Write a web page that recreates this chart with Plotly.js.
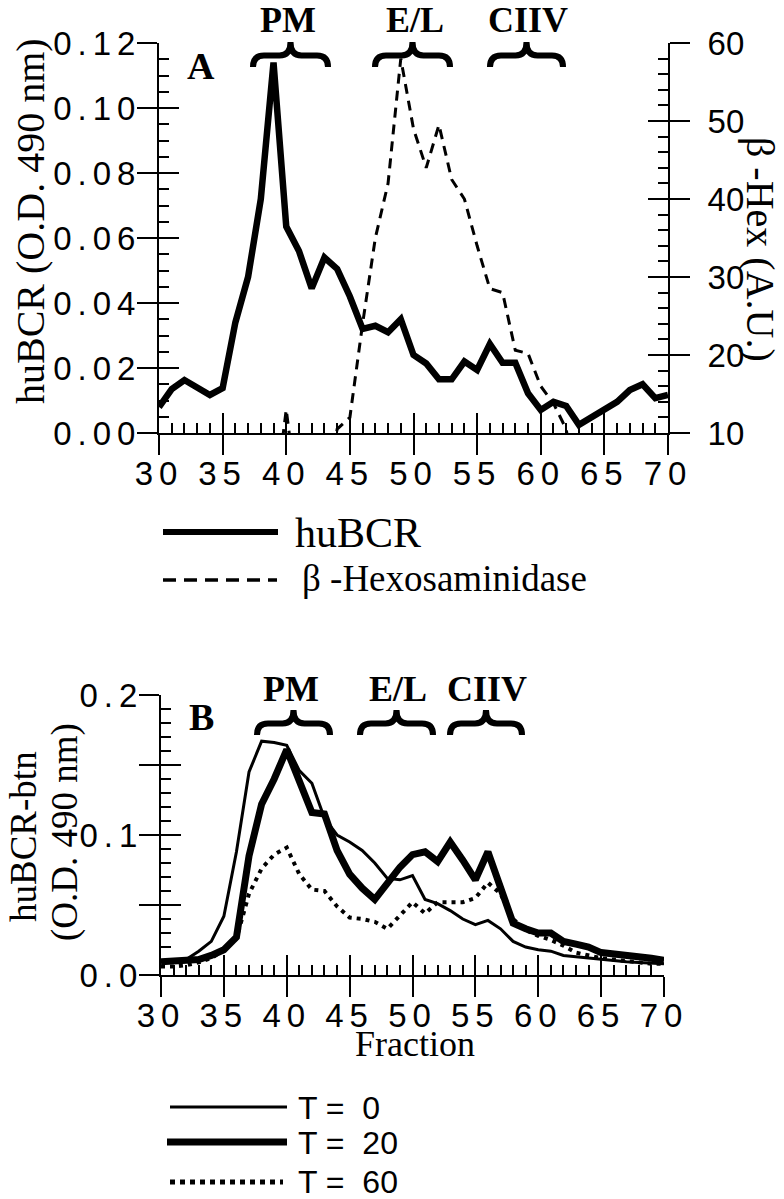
<!DOCTYPE html>
<html>
<head>
<meta charset="utf-8">
<script src="https://cdn.plot.ly/plotly-3.0.1.min.js"></script>
<style>
  body { margin: 0; background: #fff; }
  .xaxislayer-above text, .yaxislayer-above text { letter-spacing: 6px; }
</style>
</head>
<body>
<div id="chart"></div>
<script>
// Fractions of the gradient
const fractions = [30, 31, 32, 33, 34, 35, 36, 37, 38, 39, 40, 41, 42, 43, 44, 45, 46, 47, 48, 49, 50,
                   51, 52, 53, 54, 55, 56, 57, 58, 59, 60, 61, 62, 63, 64, 65, 66, 67, 68, 69, 70];

// Panel A: huBCR (O.D. 490 nm), left axis
const huBCR = [0.008, 0.0135, 0.0163, 0.014, 0.0117, 0.0138, 0.034, 0.048, 0.072, 0.114, 0.0635,
               0.056, 0.0445, 0.054, 0.0505, 0.042, 0.032, 0.033, 0.031, 0.035, 0.024,
               0.0214, 0.0165, 0.0165, 0.022, 0.0194, 0.0274, 0.0216, 0.0216, 0.0122, 0.0071,
               0.0096, 0.0083, 0.0025, 0.0048, 0.0071, 0.0096, 0.0132, 0.015, 0.0107, 0.0117];

// Panel A: beta-Hexosaminidase (A.U.), right axis (values under 10 fall below the axis)
const betaHex = [0, 0, 0, 0, 0, 0, 0, 0, 0, 0, 13,
                 0, 0, 0, 10.5, 12, 24, 35, 42, 58, 49,
                 44, 49.5, 42.5, 40, 34, 28.5, 28, 20.6, 20.2, 16,
                 13.8, 10.5, 0, 0, 0, 0, 0, 0, 0, 0];

// Panel B: huBCR-btn (O.D. 490 nm) at three chase times
const t0 = [0.0095, 0.0095, 0.011, 0.017, 0.024, 0.042, 0.088, 0.145, 0.167, 0.166, 0.164,
            0.146, 0.137, 0.112, 0.1, 0.095, 0.089, 0.08, 0.069, 0.068, 0.071,
            0.054, 0.051, 0.046, 0.04, 0.036, 0.039, 0.033, 0.024, 0.02, 0.018,
            0.017, 0.014, 0.013, 0.012, 0.011, 0.01, 0.0095, 0.009, 0.0085, 0.008];
const t20 = [0.0095, 0.01, 0.01, 0.011, 0.014, 0.018, 0.027, 0.085, 0.122, 0.14, 0.161,
             0.139, 0.116, 0.115, 0.089, 0.072, 0.062, 0.054, 0.066, 0.077, 0.086,
             0.088, 0.081, 0.095, 0.082, 0.068, 0.088, 0.063, 0.037, 0.033, 0.03,
             0.03, 0.024, 0.022, 0.02, 0.016, 0.015, 0.014, 0.014, 0.012, 0.0105];
const t60 = [0.006, 0.006, 0.007, 0.009, 0.012, 0.018, 0.026, 0.058, 0.076, 0.086, 0.091,
             0.072, 0.061, 0.06, 0.049, 0.041, 0.04, 0.038, 0.033, 0.042, 0.052,
             0.044, 0.052, 0.052, 0.052, 0.055, 0.066, 0.058, 0.04, 0.032, 0.028,
             0.025, 0.021, 0.016, 0.014, 0.012, 0.011, 0.01, 0.009, 0.008, 0.008];

// Tick labels for panel B left axis
const bTickVals = [0, 0.05, 0.1, 0.15, 0.2];
const bTickText = ['0.0', '', '0.1', '', '0.2'];

// Organelle markers
const regionLabels = ['PM', 'E/L', 'CIIV'];

const W = 784, H = 1199;
const SERIF = 'Liberation Serif, Times New Roman, serif';
const SANS = 'Liberation Sans, Arial, Helvetica, sans-serif';
const px = (p) => p / W;
const py = (p) => 1 - p / H;

const tickFont = { family: SANS, size: 33, color: 'black' };

// curly brace drawn in pixel space, converted to paper
function brace(x0, x1, yTop, yBot) {
  const xm = (x0 + x1) / 2, yb = (yTop + yBot) / 2 + 1, r = 11;
  const P = (x, y) => px(x).toFixed(5) + ',' + py(y).toFixed(5);
  return 'M' + P(x0, yBot) + ' Q' + P(x0, yb) + ' ' + P(x0 + r, yb) +
         ' L' + P(xm - r, yb) + ' Q' + P(xm, yb) + ' ' + P(xm, yTop) +
         ' Q' + P(xm, yb) + ' ' + P(xm + r, yb) + ' L' + P(x1 - r, yb) +
         ' Q' + P(x1, yb) + ' ' + P(x1, yBot);
}

function mainAxis(extra) {
  return Object.assign({
    ticks: 'outside', ticklen: 20, tickwidth: 2, tickcolor: 'black',
    showline: true, linewidth: 2, linecolor: 'black',
    showgrid: false, zeroline: false, tickfont: tickFont, fixedrange: true
  }, extra);
}
function innerAxis(extra, minorDtick) {
  return Object.assign({
    ticks: 'inside', ticklen: 20, tickwidth: 2, tickcolor: 'black',
    showticklabels: false, showline: false, showgrid: false, zeroline: false,
    minor: { ticks: 'inside', ticklen: 10, tickwidth: 2, tickcolor: 'black', dtick: minorDtick, showgrid: false }
  }, extra);
}

const data = [
  { x: fractions, y: huBCR, type: 'scatter', mode: 'lines', name: 'huBCR',
    xaxis: 'x', yaxis: 'y', line: { color: 'black', width: 6.5 } },
  { x: fractions, y: betaHex, type: 'scatter', mode: 'lines', name: 'β-Hexosaminidase',
    xaxis: 'x', yaxis: 'y3', line: { color: 'black', width: 3, dash: '10px,7px' } },
  { x: fractions, y: t60, type: 'scatter', mode: 'lines', name: 'T = 60',
    xaxis: 'x3', yaxis: 'y5', line: { color: 'black', width: 4, dash: '4px,5px' } },
  { x: fractions, y: t0, type: 'scatter', mode: 'lines', name: 'T = 0',
    xaxis: 'x3', yaxis: 'y5', line: { color: 'black', width: 3 } },
  { x: fractions, y: t20, type: 'scatter', mode: 'lines', name: 'T = 20',
    xaxis: 'x3', yaxis: 'y5', line: { color: 'black', width: 7 } },
  // empty traces so the inner-tick axes get drawn
  { x: [], y: [], xaxis: 'x2', yaxis: 'y2', hoverinfo: 'skip' },
  { x: [], y: [], xaxis: 'x2', yaxis: 'y4', hoverinfo: 'skip' },
  { x: [], y: [], xaxis: 'x4', yaxis: 'y6', hoverinfo: 'skip' }
];

const domA = { x: [px(159), px(668)], y: [py(433), py(43)] };
const domB = { x: [px(161), px(664)], y: [py(975), py(695)] };

const annotations = [];
function label(text, x, y, size, opts) {
  annotations.push(Object.assign({
    text: text, x: px(x), y: py(y), xref: 'paper', yref: 'paper',
    xanchor: 'center', yanchor: 'middle', showarrow: false,
    font: { family: SERIF, size: size, color: 'black' }
  }, opts || {}));
}
const sansFont = { family: SANS, size: 32, color: 'black' };

// region labels
[288, 415, 528].forEach((x, i) => label('<b>' + regionLabels[i] + '</b>', x, 20, 36));
[291, 398, 487].forEach((x, i) => label('<b>' + regionLabels[i] + '</b>', x, 689, 36));
label('<b>A</b>', 201, 66, 38);
label('<b>B</b>', 202, 717, 38);

// axis titles
label('huBCR (O.D. 490 nm)', 31, 221, 40, { textangle: -90 });
label('β -Hex (A.U.)', 760, 249, 40, { textangle: 90 });
label('huBCR-btn', 23, 837, 37, { textangle: -90 });
label('(O.D. 490 nm)', 65, 832, 37, { textangle: -90 });
label('Fraction', 415, 1044, 36);

// legends
label('huBCR', 293, 533, 42, { xanchor: 'left' });
label('β -Hexosaminidase', 300, 578, 37, { xanchor: 'left' });
label('T =\u00a0 0', 296, 1108, 32, { xanchor: 'left', font: sansFont });
label('T =\u00a0 20', 296, 1143, 32, { xanchor: 'left', font: sansFont });
label('T =\u00a0 60', 296, 1182, 32, { xanchor: 'left', font: sansFont });

const keyLine = (x0, x1, y, width, dash) => ({
  type: 'line', xref: 'paper', yref: 'paper', x0: px(x0), x1: px(x1), y0: py(y), y1: py(y),
  line: { color: 'black', width: width, dash: dash || 'solid' }
});
const braceShape = (x0, x1, yTop, yBot) => ({
  type: 'path', xref: 'paper', yref: 'paper', path: brace(x0, x1, yTop, yBot),
  line: { color: 'black', width: 6 }
});

const shapes = [
  braceShape(253, 328, 42, 67), braceShape(375, 450, 42, 67), braceShape(490, 563, 42, 67),
  braceShape(257, 330, 710, 735), braceShape(360, 433, 710, 735), braceShape(450, 522, 710, 735),
  keyLine(163, 278, 532, 6),
  keyLine(163, 277, 580, 3.5, '13px,8px'),
  keyLine(170, 287, 1107, 3),
  keyLine(167, 287, 1142, 7),
  keyLine(170, 283, 1182, 5, '5px,5px')
];

const layout = {
  width: W, height: H,
  margin: { l: 0, r: 0, t: 0, b: 0 },
  paper_bgcolor: 'white', plot_bgcolor: 'rgba(0,0,0,0)',
  showlegend: false,
  font: { family: SANS, color: 'black' },

  // panel A
  xaxis: mainAxis({ domain: domA.x, anchor: 'y', range: [30, 70], tick0: 30, dtick: 5, ticklabelstandoff: -10 }),
  xaxis2: innerAxis({ overlaying: 'x', anchor: 'y', range: [30, 70], tick0: 30, dtick: 5 }, 1),
  yaxis: mainAxis({ domain: domA.y, anchor: 'x', range: [0, 0.12], tick0: 0, dtick: 0.02, tickformat: '.2f',
                    ticklabelstandoff: -11 }),
  yaxis2: innerAxis({ overlaying: 'y', anchor: 'x', range: [0, 0.12], tick0: 0, dtick: 0.02 }, 0.005),
  yaxis3: mainAxis({ overlaying: 'y', anchor: 'x', side: 'right', range: [10, 60], tick0: 10, dtick: 10,
                     ticklabelstandoff: 11 }),
  yaxis4: innerAxis({ overlaying: 'y', anchor: 'x', side: 'right', range: [10, 60], tick0: 10, dtick: 10 }, 2),

  // panel B
  xaxis3: mainAxis({ domain: domB.x, anchor: 'y5', range: [30, 70], tick0: 30, dtick: 5, ticklabelstandoff: -10 }),
  xaxis4: innerAxis({ overlaying: 'x3', anchor: 'y5', range: [30, 70], tick0: 30, dtick: 5 }, 1),
  yaxis5: mainAxis({ domain: domB.y, anchor: 'x3', range: [0, 0.2], tickmode: 'array',
                     tickvals: bTickVals, ticktext: bTickText, ticklabelstandoff: -11 }),
  yaxis6: innerAxis({ overlaying: 'y5', anchor: 'x3', range: [0, 0.2], tick0: 0, dtick: 0.05 }, 0.01),

  annotations: annotations,
  shapes: shapes
};

Plotly.newPlot('chart', data, layout, { displayModeBar: false, staticPlot: true });
</script>
</body>
</html>
